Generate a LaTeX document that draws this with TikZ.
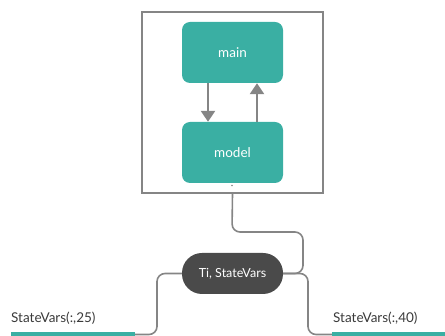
\documentclass[tikz,border=0pt]{standalone}
\usepackage{fontspec}
\setmainfont{Lato}
\usetikzlibrary{arrows.meta}
\definecolor{teal1}{HTML}{3AAFA3}
\definecolor{pill}{HTML}{4A4A4A}
\definecolor{linegray}{HTML}{858585}
\definecolor{txt}{HTML}{3A3A3A}
\begin{document}
\begin{tikzpicture}[x=1pt,y=-1pt,
  tbox/.style={fill=teal1,rounded corners=8pt,minimum width=101pt,minimum height=61pt,inner sep=0pt,text=white,font=\fontsize{13.5}{15}\selectfont},
  conn/.style={draw=linegray,line width=1.6pt,rounded corners=8pt},
  flow/.style={draw=linegray,line width=2.6pt,-{Triangle[width=14pt,length=11pt]}},
  lbl/.style={text=txt,font=\fontsize{13.5}{15}\selectfont,inner sep=0pt,anchor=base west}]
\useasboundingbox (0,0) rectangle (445,336);
\node[draw=linegray,line width=1.8pt,minimum width=181pt,minimum height=181pt,inner sep=0pt] (frame) at (232.5,102.5) {};
\node[tbox] (main) at (232.5,52.5) {main};
\node[tbox] (model) at (232.5,152.5) {model};
\draw[flow] ([xshift=-24.5pt]main.south) -- ([xshift=-24.5pt]model.north);
\draw[flow] ([xshift=24.5pt]model.north) -- ([xshift=24.5pt]main.south);
\fill[linegray] (232,185.5) circle (0.8pt);
\node[fill=pill,rounded corners=20pt,minimum width=101pt,minimum height=41pt,inner sep=0pt,text=white,font=\fontsize{12.5}{14}\selectfont] (tv) at (232.5,273.5) {Ti, StateVars};
\coordinate (lb) at (135,334.5);
\coordinate (rb) at (332,334.5);
\draw[conn] (frame.south) -- (232,232) -- (303,232) -- (303,273.5) -- (tv.east);
\draw[conn] (tv.west) -- (157,273.5) -- (157,334.5) -- (lb);
\draw[conn] (tv.east) -- (308,273.5) -- (308,334.5) -- (rb);
\fill[teal1] (11,332) rectangle (135,336);
\fill[teal1] (332,332) rectangle (445,336);
\node[lbl] (l1) at (11,323) {StateVars(:,25)};
\node[lbl] (l2) at (333,323) {StateVars(:,40)};
\end{tikzpicture}
\end{document}
